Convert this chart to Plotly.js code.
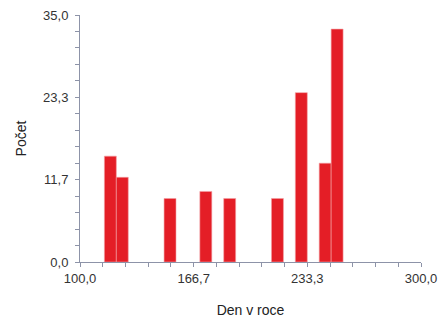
<!DOCTYPE html>
<html>
<head>
<meta charset="utf-8">
<script src="https://cdn.plot.ly/plotly-3.0.1.min.js"></script>
<style>html,body{margin:0;padding:0;background:#fff;}#chart{width:439px;height:325px;}</style>
</head>
<body>
<div id="chart"></div>
<script>
// Week bins (centre day of year) and counts
const dayBins = [117.8, 124.8, 152.8, 173.8, 187.8, 215.8, 229.8, 243.8, 250.8];
const counts  = [15, 12, 9, 10, 9, 9, 24, 14, 33];
const binWidth = 7;
const xTickVals = [100, 166.667, 233.333, 300];
const xTickText = ['100,0', '166,7', '233,3', '300,0'];
const yTickVals = [0, 11.667, 23.333, 35];
const yTickText = ['0,0', '11,7', '23,3', '35,0'];

const axisColor = '#8d93a8';
const fontFam = 'Liberation Sans, Arial, sans-serif';

Plotly.newPlot('chart', [{
  type: 'bar',
  x: dayBins,
  y: counts,
  width: dayBins.map(() => binWidth),
  marker: {color: '#e41e26', line: {color: '#f3a0a3', width: 0.6}},
  hoverinfo: 'skip'
}], {
  width: 439, height: 325,
  margin: {l: 80, r: 18, t: 15, b: 63},
  paper_bgcolor: '#fff', plot_bgcolor: '#fff',
  showlegend: false,
  bargap: 0,
  font: {family: fontFam, color: '#333', size: 13},
  xaxis: {
    range: [100, 300], tickmode: 'array', tickvals: xTickVals, ticktext: xTickText,
    showgrid: false, zeroline: false, showline: true, linecolor: axisColor, linewidth: 1,
    ticks: 'outside', ticklen: 4, tickcolor: axisColor, tickfont: {size: 13, color: '#333'},
    minor: {dtick: 13.3333, tick0: 100, ticks: 'outside', ticklen: 4, tickcolor: axisColor, showgrid: false},
    title: {text: 'Den v roce', font: {size: 14, color: '#222'}, standoff: 20}
  },
  yaxis: {
    range: [0, 35], tickmode: 'array', tickvals: yTickVals, ticktext: yTickText,
    showgrid: false, zeroline: false, showline: true, linecolor: axisColor, linewidth: 1,
    ticks: 'outside', ticklen: 4, tickcolor: axisColor, tickfont: {size: 13, color: '#333'},
    ticklabelstandoff: 4,
    minor: {dtick: 2.33333, tick0: 0, ticks: 'outside', ticklen: 4, tickcolor: axisColor, showgrid: false},
    title: {text: 'Počet', font: {size: 14, color: '#222'}, standoff: 13}
  }
}, {displayModeBar: false, staticPlot: true});
</script>
</body>
</html>
